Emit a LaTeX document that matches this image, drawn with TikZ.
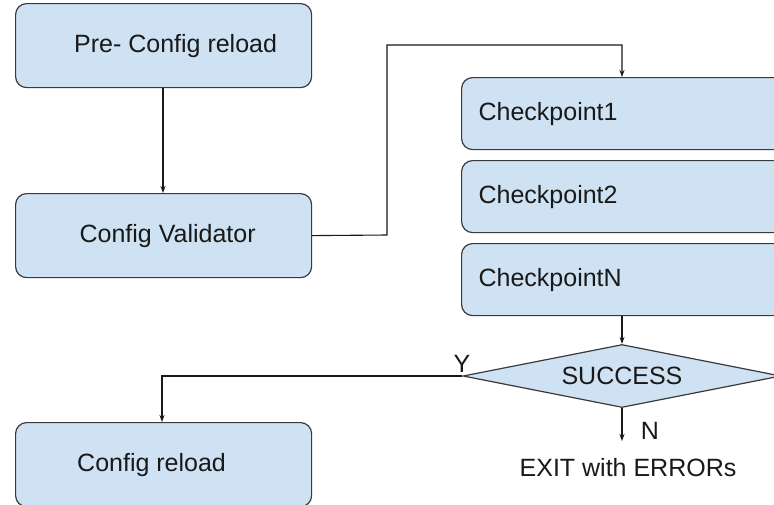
\documentclass[tikz,border=0pt]{standalone}
\usepackage{fontspec}
\setmainfont{Liberation Sans}
\usetikzlibrary{shapes.geometric,arrows.meta}
\definecolor{boxfill}{HTML}{CFE2F3}
\definecolor{boxline}{HTML}{3A3A3A}
\begin{document}
\begin{tikzpicture}[x=1pt,y=-1pt,
  stepbox/.style={draw=boxline,fill=boxfill,line width=1.2pt,rounded corners=11pt,
    minimum width=296pt,minimum height=84pt,inner sep=0pt,anchor=north west,
    font=\fontsize{25}{29}\selectfont,text=black!90},
  chkbox/.style={draw=boxline,fill=boxfill,line width=1.2pt,rounded corners=11pt,
    minimum height=72pt,inner xsep=17pt,inner ysep=0pt,text width=300pt,align=left,
    anchor=north west,font=\fontsize{25}{29}\selectfont,text=black!90},
  decision/.style={diamond,draw=boxline,fill=boxfill,line width=1.2pt,aspect=5,
    minimum width=318pt,minimum height=63pt,inner sep=0pt,
    font=\fontsize{25}{29}\selectfont,text=black!90},
  lbl/.style={font=\fontsize{25}{29}\selectfont,text=black!90,inner sep=0pt},
  conn/.style={draw=black!90,line width=1.1pt},
  arr/.style={conn,-{Stealth[length=7pt,width=5pt]}}]
\useasboundingbox (0,0) rectangle (774,504);
\fill[white] (0,0) rectangle (774,504);
\node[stepbox] (pre) at (15,3) {\hspace*{24pt}Pre- Config reload};
\node[stepbox] (val) at (15,193) {\hspace*{8pt}Config Validator};
\node[stepbox] (rel) at (15,422) {Config reload\hspace*{24pt}};
\node[chkbox] (c1) at (461,77) {Checkpoint1};
\node[chkbox] (c2) at (461,160) {Checkpoint2};
\node[chkbox] (cn) at (461,243) {CheckpointN};
\node[decision] (succ) at (622,376) {SUCCESS};
\node[lbl] (exit) at (628,468) {EXIT with ERRORs};
\coordinate (nend) at (622,441);
\node[lbl] (ylab) at (462,364) {Y};
\node[lbl] (nlab) at (650,431) {N};
\draw[arr] (pre.south -| 163,0) -- (val.north -| 163,0);
\draw[arr] (val.east) -- (387,235) -- (387,45) -- (622,45) -- (c1.north -| 622,0);
\draw[arr] (cn.south -| 622,0) -- (succ.north);
\draw[arr] (succ.west) -- (162,376) -- (rel.north -| 162,0);
\draw[arr] (succ.south) -- (nend);
\end{tikzpicture}
\end{document}
